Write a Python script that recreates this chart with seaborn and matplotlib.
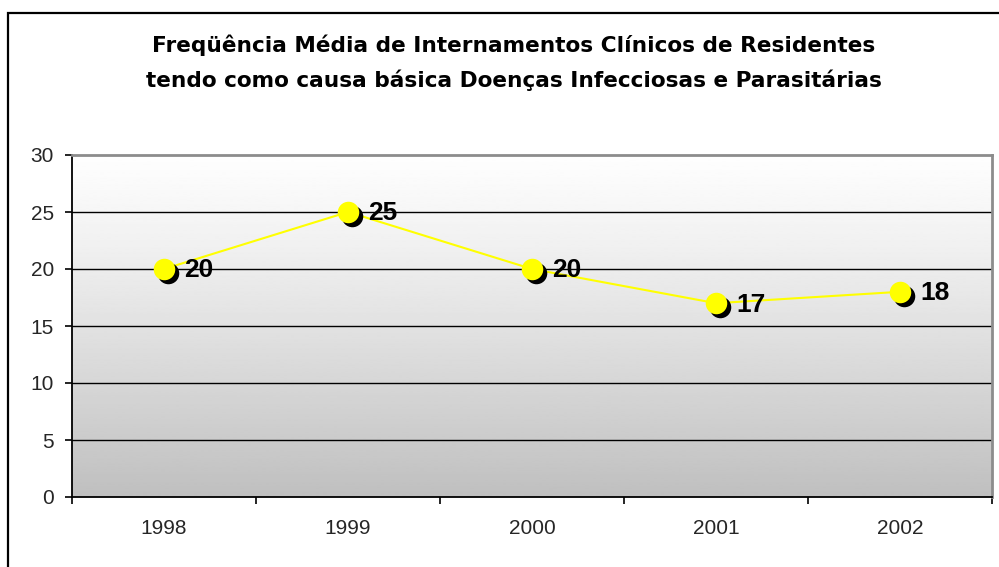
import numpy as np
import matplotlib
matplotlib.use("Agg")
import matplotlib.pyplot as plt
import matplotlib.transforms as mtransforms
from matplotlib.patches import Rectangle
import seaborn as sns

# Chart data
years = ["1998", "1999", "2000", "2001", "2002"]
frequencia = [20, 25, 20, 17, 18]
y_ticks = [0, 5, 10, 15, 20, 25, 30]
title_text = ("Freqüência Média de Internamentos Clínicos de Residentes\n"
              "tendo como causa básica Doenças Infecciosas e Parasitárias")

sns.set_theme(style="white")
plt.rcParams["font.family"] = ["Liberation Sans", "DejaVu Sans"]

W, H = 999, 567
fig = plt.figure(figsize=(W / 100, H / 100), dpi=100)
fig.patch.set_facecolor("white")

# Outer chart-area frame (runs off the right and bottom edges)
fig.patches.append(Rectangle((8 / W, -0.1), 1.2, 1 - 13 / H + 0.1,
                             transform=fig.transFigure, fill=False,
                             edgecolor="black", linewidth=1.6, zorder=0))

ax = fig.add_axes([72 / W, 1 - 497 / H, 920 / W, 342 / H])
pos = np.arange(len(years))

# Gradient background of the plot area
g = np.linspace(0, 1, 256)
grad = (0.995 - 0.245 * g ** 1.15).reshape(-1, 1)
ax.imshow(grad, cmap="gray", vmin=0, vmax=1, aspect="auto",
          extent=[0, 1, 0, 1], transform=ax.transAxes, zorder=0,
          interpolation="bilinear")

# Horizontal gridlines
for yv in y_ticks[1:-1]:
    ax.axhline(yv, color="black", linewidth=1.0, zorder=1)

# Series line
sns.lineplot(x=pos, y=frequencia, color="#ffff00", linewidth=1.5,
             ax=ax, zorder=2)

# Marker shadows, then markers
shadow = mtransforms.offset_copy(ax.transData, fig=fig, x=3, y=-3,
                                 units="points")
sns.scatterplot(x=pos, y=frequencia, color="black", s=240, linewidth=0,
                ax=ax, zorder=3, transform=shadow)
sns.scatterplot(x=pos, y=frequencia, color="#ffff00", s=240, linewidth=0,
                ax=ax, zorder=4)

# Value labels
for xi, v in zip(pos, frequencia):
    ax.annotate(f"{v}", (xi, v), xytext=(14.5, -1), textcoords="offset points",
                ha="left", va="center", fontsize=19, fontweight="bold",
                color="black", zorder=5)

ax.set_xlim(-0.5, len(years) - 0.5)
ax.set_ylim(0, 30)
ax.set_yticks(y_ticks)
ax.set_yticklabels([str(t) for t in y_ticks])
ax.set_xticks(np.arange(len(years) + 1) - 0.5)
ax.set_xticklabels([])
ax.set_xticks(pos, minor=True)
ax.set_xticklabels(years, minor=True)
ax.tick_params(axis="y", which="major", direction="out", length=5, width=1.2,
               color="black", labelsize=15, pad=8, left=True)
ax.tick_params(axis="x", which="major", direction="out", length=5, width=1.2,
               color="black", bottom=True)
ax.tick_params(axis="x", which="minor", length=0, labelsize=15, pad=16)
ax.set_xlabel("")
ax.set_ylabel("")

for side in ("left", "bottom"):
    ax.spines[side].set_color("black")
    ax.spines[side].set_linewidth(1.3)
for side in ("top", "right"):
    ax.spines[side].set_color("#8c8c8c")
    ax.spines[side].set_linewidth(2.0)
for sp in ax.spines.values():
    sp.set_visible(True)
    sp.set_zorder(6)

fig.text(514 / W, 1 - 63 / H, title_text, ha="center", va="center",
         fontsize=15.6, fontweight="bold", linespacing=1.76, color="black",
         family=["DejaVu Sans"])

fig.savefig("out.png", dpi=100, facecolor="white")
